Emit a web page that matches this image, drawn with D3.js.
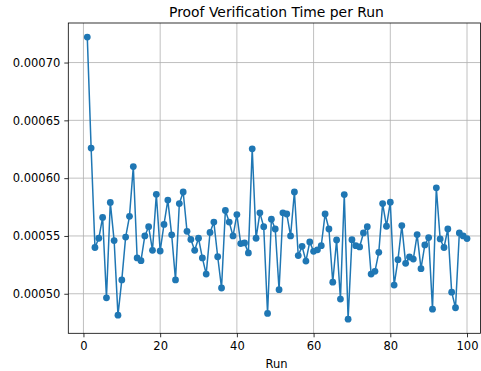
<!DOCTYPE html>
<html>
<head>
<meta charset="utf-8">
<script src="https://cdn.jsdelivr.net/npm/d3@7"></script>
<style>
  body { margin: 0; background: #fff; }
  text { font-family: "DejaVu Sans", sans-serif; fill: #000; }
</style>
</head>
<body>
<div id="chart"></div>
<script>
  var width = 481,
      height = 371;

  // the figure is cut at the right, so the axes run a little past the edge
  var margin = {top: 23, right: -5, bottom: 37.7, left: 68.3};

  // run numbers 1..100
  var runs = d3.range(1, 101);

  // verification time (seconds)
  var times = [
    0.000722, 0.000626, 0.000540, 0.000548, 0.000566, 0.0004965, 0.000579, 0.000546, 0.0004815, 0.000512,
    0.000549, 0.000567, 0.000610, 0.000531, 0.0005286, 0.000550, 0.000558, 0.0005376, 0.000586, 0.000537,
    0.000560, 0.000581, 0.000551, 0.000512, 0.000578, 0.000588, 0.000554, 0.000547, 0.0005376, 0.000548,
    0.000531, 0.000517, 0.000553, 0.000562, 0.000532, 0.000505, 0.000572, 0.000562, 0.000550, 0.0005685,
    0.0005434, 0.000544, 0.0005353, 0.0006254, 0.000548, 0.000570, 0.000558, 0.000483, 0.0005645, 0.000556,
    0.0005035, 0.000570, 0.000569, 0.000550, 0.000588, 0.000533, 0.000541, 0.0005283, 0.0005448, 0.0005367,
    0.000538, 0.0005416, 0.000569, 0.000556, 0.000510, 0.0005465, 0.0004954, 0.0005858, 0.000478, 0.0005468,
    0.0005416, 0.0005405, 0.0005526, 0.000558, 0.000517, 0.0005194, 0.0005358, 0.000578, 0.0005584, 0.0005792,
    0.0005075, 0.0005295, 0.000559, 0.0005263, 0.0005318, 0.000530, 0.0005512, 0.0005217, 0.0005422, 0.0005486,
    0.0004867, 0.0005916, 0.0005474, 0.000540, 0.000556, 0.0005014, 0.0004879, 0.0005526, 0.000550, 0.0005477
  ];

  var xTicks = [0, 20, 40, 60, 80, 100];
  var yTicks = [0.00050, 0.00055, 0.00060, 0.00065, 0.00070];

  var data = runs.map(function(r, i) { return {run: r, t: times[i]} });

  var svg = d3.select("#chart")
    .append("svg")
    .attr("width", width)
    .attr("height", height)

  var plotW = width - margin.left - margin.right,
      plotH = height - margin.top - margin.bottom;

  // matplotlib-like 5% padding
  var xMin = d3.min(runs), xMax = d3.max(runs),
      yMin = d3.min(times), yMax = d3.max(times);
  var xPad = (xMax - xMin) * 0.05,
      yPad = (yMax - yMin) * 0.05;

  var x = d3.scaleLinear()
    .domain([xMin - xPad, xMax + xPad])
    .range([margin.left, margin.left + plotW])

  var y = d3.scaleLinear()
    .domain([yMin - yPad, yMax + yPad])
    .range([margin.top + plotH, margin.top])

  var rightEdge = Math.min(margin.left + plotW, width - 0.6);

  // grid
  svg.append("g")
    .selectAll("line")
    .data(xTicks)
    .enter().append("line")
    .attr("x1", function(d) { return x(d) })
    .attr("x2", function(d) { return x(d) })
    .attr("y1", margin.top)
    .attr("y2", margin.top + plotH)
    .attr("stroke", "#b0b0b0")
    .attr("stroke-width", 0.8)

  svg.append("g")
    .selectAll("line")
    .data(yTicks)
    .enter().append("line")
    .attr("x1", margin.left)
    .attr("x2", rightEdge)
    .attr("y1", function(d) { return y(d) })
    .attr("y2", function(d) { return y(d) })
    .attr("stroke", "#b0b0b0")
    .attr("stroke-width", 0.8)

  // axes
  var xAxis = svg.append("g")
    .attr("transform", "translate(0," + (margin.top + plotH) + ")")
    .call(d3.axisBottom(x).tickValues(xTicks).tickSize(4).tickPadding(5).tickSizeOuter(0))

  var yAxis = svg.append("g")
    .attr("transform", "translate(" + margin.left + ",0)")
    .call(d3.axisLeft(y).tickValues(yTicks).tickSize(4).tickPadding(4).tickSizeOuter(0)
      .tickFormat(d3.format(".5f")))

  ;[xAxis, yAxis].forEach(function(a) {
    a.select(".domain").remove()
    a.selectAll("line").attr("stroke", "#000").attr("stroke-width", 0.8)
    a.selectAll("text")
      .style("font-family", "DejaVu Sans")
      .style("font-size", "11.5px")
      .attr("fill", "#000")
  })

  // frame
  svg.append("rect")
    .attr("x", margin.left)
    .attr("y", margin.top)
    .attr("width", rightEdge - margin.left)
    .attr("height", plotH)
    .attr("fill", "none")
    .attr("stroke", "#000")
    .attr("stroke-width", 0.8)

  // series
  var line = d3.line()
    .x(function(d) { return x(d.run) })
    .y(function(d) { return y(d.t) })

  svg.append("path")
    .datum(data)
    .attr("d", line)
    .attr("fill", "none")
    .attr("stroke", "#1f77b4")
    .attr("stroke-width", 1.5)
    .attr("stroke-linejoin", "round")

  svg.append("g")
    .selectAll("circle")
    .data(data)
    .enter().append("circle")
    .attr("cx", function(d) { return x(d.run) })
    .attr("cy", function(d) { return y(d.t) })
    .attr("r", 3.4)
    .attr("fill", "#1f77b4")

  // title and label
  svg.append("text")
    .attr("x", 276.5)
    .attr("y", 17)
    .attr("text-anchor", "middle")
    .style("font-size", "13.9px")
    .text("Proof Verification Time per Run")

  svg.append("text")
    .attr("x", 276.5)
    .attr("y", 368)
    .attr("text-anchor", "middle")
    .style("font-size", "11.5px")
    .text("Run")
</script>
</body>
</html>
